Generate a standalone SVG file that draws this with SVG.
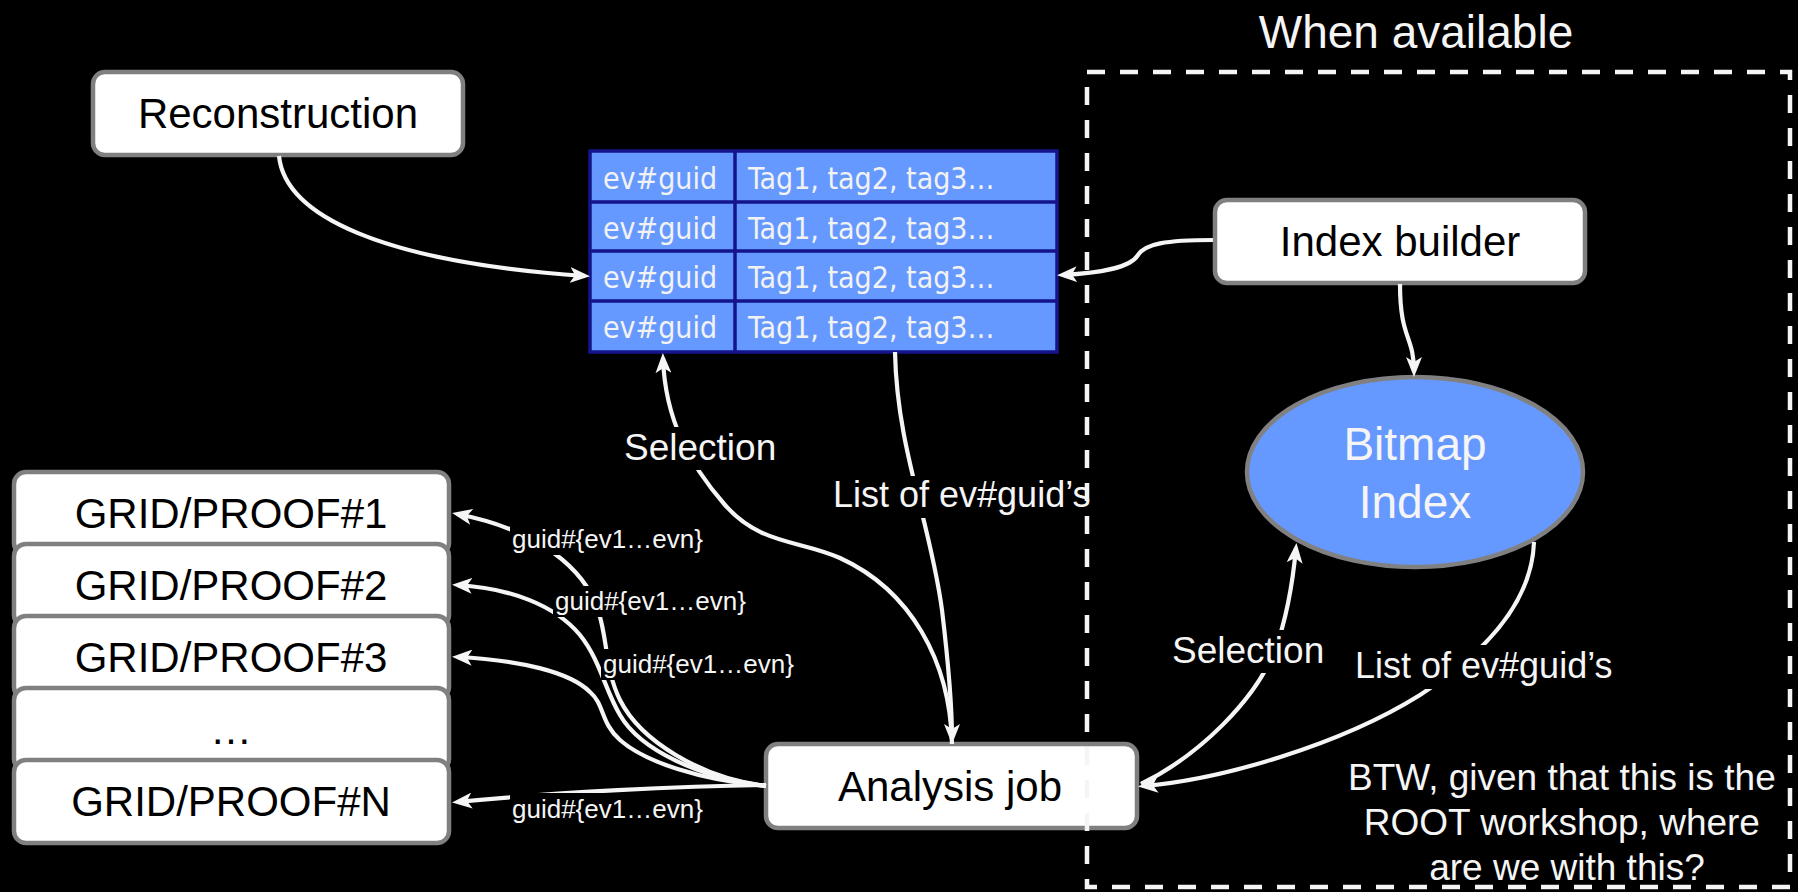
<svg xmlns="http://www.w3.org/2000/svg" width="1798" height="892" viewBox="0 0 1798 892">
<defs>
<style>
.box{fill:#ffffff;stroke:#808080;stroke-width:4.5}
.t{font-family:'Liberation Sans',Arial,sans-serif;font-size:42px;fill:#000;text-anchor:middle}
.w{font-family:'Liberation Sans',Arial,sans-serif;fill:#f5f5f5}
.conn{fill:none;stroke:#f5f5f5;stroke-width:4.2}
.arr{marker-end:url(#arr)}
.bg{fill:#000}
.cell{font-family:'DejaVu Sans Condensed','DejaVu Sans',sans-serif;font-stretch:condensed;font-size:30px;fill:#f2f2f2}
.grid{stroke:#14148c;stroke-width:3.5;fill:none}
.g26{font-size:26px}
</style>
<marker id="arr" viewBox="0 0 20 16" refX="15" refY="8" markerWidth="20" markerHeight="16" markerUnits="userSpaceOnUse" orient="auto">
<path d="M0,0 L20,8 L0,16 L5,8 z" fill="#f5f5f5"/>
</marker>
</defs>
<rect x="0" y="0" width="1798" height="892" fill="#000"/>

<g id="reconstruction">
<rect class="box" x="93" y="72" width="370" height="83" rx="12"/>
<text class="t" x="278" y="128">Reconstruction</text>
</g>

<g id="event-table">
<rect x="590" y="151" width="467" height="201" fill="#6699ff"/>
<rect class="grid" x="590" y="151" width="467" height="201"/>
<line class="grid" x1="590" y1="202" x2="1057" y2="202"/>
<line class="grid" x1="590" y1="251" x2="1057" y2="251"/>
<line class="grid" x1="590" y1="301" x2="1057" y2="301"/>
<line class="grid" x1="735" y1="151" x2="735" y2="352"/>
<text class="cell" x="603" y="189">ev#guid</text>
<text class="cell" x="603" y="239">ev#guid</text>
<text class="cell" x="603" y="288">ev#guid</text>
<text class="cell" x="603" y="338">ev#guid</text>
<text class="cell" x="748" y="189">Tag1, tag2, tag3…</text>
<text class="cell" x="748" y="239">Tag1, tag2, tag3…</text>
<text class="cell" x="748" y="288">Tag1, tag2, tag3…</text>
<text class="cell" x="748" y="338">Tag1, tag2, tag3…</text>
</g>

<g id="index-builder">
<rect class="box" x="1215" y="200" width="370" height="83" rx="12"/>
<text class="t" x="1400" y="256">Index builder</text>
</g>

<g id="bitmap-index">
<ellipse cx="1415" cy="472" rx="168" ry="95" fill="#6699ff" stroke="#808080" stroke-width="4.5"/>
<text class="w" x="1415" y="460" font-size="46" text-anchor="middle">Bitmap</text>
<text class="w" x="1415" y="518" font-size="46" text-anchor="middle">Index</text>
</g>

<g id="grid1">
<rect class="box" x="14" y="472" width="435" height="83" rx="12"/>
<text class="t" x="231" y="528">GRID/PROOF#1</text>
</g>
<g id="grid2">
<rect class="box" x="14" y="544" width="435" height="83" rx="12"/>
<text class="t" x="231" y="600">GRID/PROOF#2</text>
</g>
<g id="grid3">
<rect class="box" x="14" y="616" width="435" height="83" rx="12"/>
<text class="t" x="231" y="672">GRID/PROOF#3</text>
</g>
<g id="grid-more">
<rect class="box" x="14" y="688" width="435" height="83" rx="12"/>
<text class="t" x="231" y="744">…</text>
</g>
<g id="gridN">
<rect class="box" x="14" y="760" width="435" height="83" rx="12"/>
<text class="t" x="231" y="816">GRID/PROOF#N</text>
</g>

<g id="analysis-job">
<rect class="box" x="766" y="744" width="371" height="84" rx="12"/>
<text class="t" x="950" y="801">Analysis job</text>
</g>

<g id="connectors">
<path class="conn arr" d="M279,156 C285,215 380,262 585,276"/>
<path class="conn arr" d="M1213,240 C1165,240 1145,244 1138,255 C1130,268 1100,273 1062,275"/>
<path class="conn arr" d="M1400,284 C1400,340 1414,335 1414,372"/>
<path class="conn arr" d="M952,744 C950,660 910,590 840,558 C800,540 760,545 725,505 C690,465 665,420 663,358"/>
<path class="conn arr" d="M895,352 C897,450 930,520 942,610 C948,660 952,700 952,739"/>
<path class="conn arr" d="M1141,784 C1200,755 1255,700 1275,650 C1288,615 1293,580 1296,548"/>
<path class="conn arr" d="M1534,542 C1532,600 1490,650 1420,695 C1340,745 1220,780 1143,786"/>
<path class="conn arr" d="M766,786 C700,778 640,740 620,700 C605,670 608,640 598,610 C585,570 540,530 457,514"/>
<path class="conn arr" d="M766,786 C700,778 640,750 620,715 C605,690 600,660 580,635 C555,605 510,588 457,585"/>
<path class="conn arr" d="M766,786 C700,780 645,762 620,740 C600,722 605,705 590,692 C570,672 520,660 457,657"/>
<path class="conn arr" d="M766,785 C680,786 560,792 457,802"/>
<rect class="bg" x="620" y="427" width="160" height="43"/>
<text class="w" x="624" y="460" font-size="37">Selection</text>
<rect class="bg" x="829" y="476" width="282" height="42"/>
<text class="w" x="833" y="507" font-size="36">List of ev#guid’s</text>
<rect class="bg" x="1168" y="630" width="161" height="43"/>
<text class="w" x="1172" y="663" font-size="37">Selection</text>
<rect class="bg" x="1351" y="645" width="282" height="44"/>
<text class="w" x="1355" y="678" font-size="36">List of ev#guid’s</text>
<rect class="bg" x="510" y="524" width="198" height="31"/>
<text class="w g26" x="512" y="548">guid#{ev1…evn}</text>
<rect class="bg" x="553" y="586" width="197" height="31"/>
<text class="w g26" x="555" y="610">guid#{ev1…evn}</text>
<rect class="bg" x="601" y="649" width="198" height="31"/>
<text class="w g26" x="603" y="673">guid#{ev1…evn}</text>
<rect class="bg" x="510" y="793" width="198" height="32"/>
<text class="w g26" x="512" y="818">guid#{ev1…evn}</text>
</g>

<g id="btw-note">
<text class="w" font-size="37" text-anchor="middle">
<tspan x="1567" y="790">BTW, given that this is the</tspan>
<tspan x="1567" y="835">ROOT workshop, where</tspan>
<tspan x="1567" y="880">are we with this?</tspan>
</text>
</g>

<g id="when-available">
<text class="w" x="1416" y="48" font-size="46" text-anchor="middle">When available</text>
<path d="M1087,72 H1790 V887 H1087 Z" fill="none" stroke="#f5f5f5" stroke-width="4.5" stroke-dasharray="18 15"/>
</g>
</svg>
